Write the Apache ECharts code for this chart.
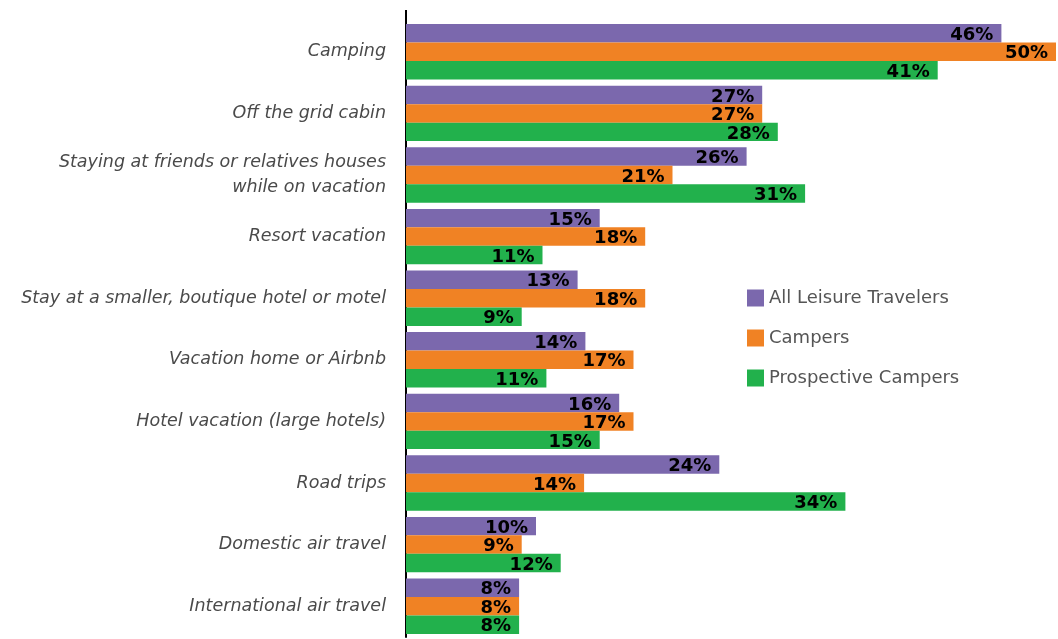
<!DOCTYPE html>
<html>
<head>
<meta charset="utf-8">
<script src="https://cdn.jsdelivr.net/npm/echarts@6/dist/echarts.min.js"></script>
<style>
  html, body { margin: 0; padding: 0; background: #ffffff; }
  #chart { width: 1058px; height: 639px; }
</style>
</head>
<body>
<div id="chart"></div>
<script>
// categories, top to bottom
const categories = [
  'Camping',
  'Off the grid cabin',
  'Staying at friends or relatives houses\nwhile on vacation',
  'Resort vacation',
  'Stay at a smaller, boutique hotel or motel',
  'Vacation home or Airbnb',
  'Hotel vacation (large hotels)',
  'Road trips',
  'Domestic air travel',
  'International air travel'
]

// bar lengths as drawn
const allLeisure = [45.8, 27.4, 26.2, 14.9, 13.2, 13.8, 16.4, 24.1, 10.0, 8.7]
const campers = [50.0, 27.4, 20.5, 18.4, 18.4, 17.5, 17.5, 13.7, 8.9, 8.7]
const prospective = [40.9, 28.6, 30.7, 10.5, 8.9, 10.8, 14.9, 33.8, 11.9, 8.7]

// printed labels
const allLeisureLabels = ['46%', '27%', '26%', '15%', '13%', '14%', '16%', '24%', '10%', '8%']
const campersLabels = ['50%', '27%', '21%', '18%', '18%', '17%', '17%', '14%', '9%', '8%']
const prospectiveLabels = ['41%', '28%', '31%', '11%', '9%', '11%', '15%', '34%', '12%', '8%']

const seriesNames = ['All Leisure Travelers', 'Campers', 'Prospective Campers']
const colors = ['#7b68ad', '#f08224', '#22b14c']

const gridLeft = 406

function makeSeries (name, data, labels, color) {
  return {
    name: name,
    type: 'bar',
    data: data,
    barGap: '0%',
    barCategoryGap: '10%',
    itemStyle: { color: color },
    label: {
      show: true,
      position: 'insideRight',
      distance: 8,
      offset: [0, 2],
      color: '#000000',
      fontFamily: 'DejaVu Sans',
      fontWeight: 'bold',
      fontSize: 18,
      formatter: function (p) {
        return labels[p.dataIndex]
      }
    }
  }
}

const chart = echarts.init(document.getElementById('chart'))
chart.setOption({
  backgroundColor: '#ffffff',
  animation: false,
  color: colors,
  grid: {
    left: gridLeft,
    right: 2,
    top: 21,
    bottom: 2
  },
  // the axis line runs a little above the first category
  graphic: [{
    type: 'line',
    shape: { x1: gridLeft, y1: 10, x2: gridLeft, y2: 22 },
    style: { stroke: '#000000', lineWidth: 2 }
  }],
  legend: {
    orient: 'vertical',
    left: 742,
    top: 284,
    itemWidth: 17,
    itemHeight: 17,
    itemGap: 22,
    icon: 'rect',
    data: seriesNames,
    textStyle: {
      color: '#555555',
      fontFamily: 'DejaVu Sans',
      fontSize: 18
    }
  },
  xAxis: {
    type: 'value',
    min: 0,
    max: 50,
    show: false
  },
  yAxis: {
    type: 'category',
    inverse: true,
    data: categories,
    axisTick: { show: false },
    axisLine: {
      show: true,
      lineStyle: { color: '#000000', width: 2 }
    },
    axisLabel: {
      margin: 20,
      color: '#4a4a4a',
      fontFamily: 'DejaVu Sans',
      fontStyle: 'italic',
      fontSize: 17.5,
      lineHeight: 25,
      align: 'right'
    }
  },
  series: [
    makeSeries(seriesNames[0], allLeisure, allLeisureLabels, colors[0]),
    makeSeries(seriesNames[1], campers, campersLabels, colors[1]),
    makeSeries(seriesNames[2], prospective, prospectiveLabels, colors[2])
  ]
})
</script>
</body>
</html>
